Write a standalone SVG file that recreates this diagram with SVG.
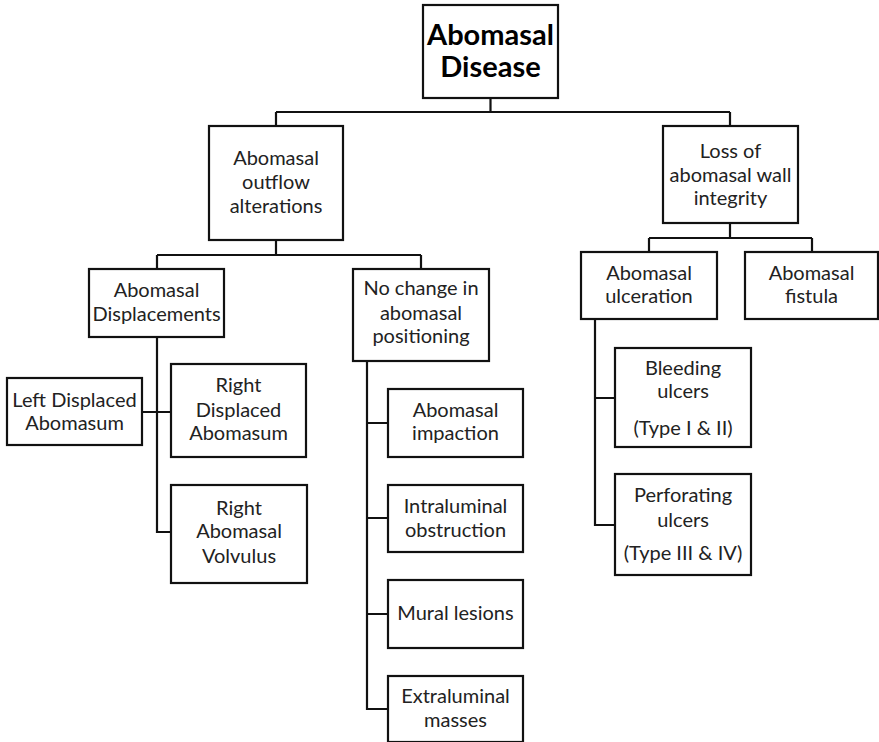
<svg xmlns="http://www.w3.org/2000/svg" width="879" height="742" viewBox="0 0 879 742">
<style>
rect{fill:#fff;stroke:#111;stroke-width:2.2}
.c path{fill:none;stroke:#111;stroke-width:2.2}
text{font-family:Lato,"Liberation Sans",sans-serif;font-size:20px;fill:#222;text-anchor:middle}
.root{font-weight:bold;font-size:29px;fill:#000}
</style>
<rect x="0" y="0" width="879" height="742" style="fill:#fff;stroke:none"/>
<g class="c" id="connectors">
<path d="M490.5 98V112M276 112H730M276 112V126M730 112V126"/>
<path d="M276 240V255M157 255H421M157 255V269M421 255V269"/>
<path d="M730 223V238M649 238H812M649 238V252M812 238V252"/>
<path d="M157 337V532H171M142 412H171"/>
<path d="M367 361V709H388M367 423H388M367 518H388M367 614H388"/>
<path d="M595 319V525H615M595 398H615"/>
</g>
<g id="root"><rect x="423" y="5" width="135" height="93"/><text class="root" x="490.5" y="45">Abomasal</text><text class="root" x="490.5" y="77">Disease</text></g>
<g id="outflow"><rect x="209" y="126" width="134" height="114"/><text x="276" y="165">Abomasal</text><text x="276" y="189">outflow</text><text x="276" y="213">alterations</text></g>
<g id="loss"><rect x="663" y="126" width="135" height="97"/><text x="730.5" y="158">Loss of</text><text x="730.5" y="182">abomasal wall</text><text x="730.5" y="205">integrity</text></g>
<g id="displacements"><rect x="89" y="269" width="135" height="68"/><text x="156.5" y="297">Abomasal</text><text x="156.5" y="321">Displacements</text></g>
<g id="nochange"><rect x="353" y="269" width="136" height="92"/><text x="421" y="295">No change in</text><text x="421" y="320">abomasal</text><text x="421" y="343">positioning</text></g>
<g id="ulceration"><rect x="581" y="252" width="136" height="67"/><text x="649" y="280">Abomasal</text><text x="649" y="303">ulceration</text></g>
<g id="fistula"><rect x="745" y="252" width="133" height="67"/><text x="811.5" y="280">Abomasal</text><text x="811.5" y="303">fistula</text></g>
<g id="lda"><rect x="7" y="378" width="135" height="67"/><text x="74.5" y="407">Left Displaced</text><text x="74.5" y="430">Abomasum</text></g>
<g id="rda"><rect x="171" y="364" width="135" height="93"/><text x="238.5" y="392">Right</text><text x="238.5" y="417">Displaced</text><text x="238.5" y="440">Abomasum</text></g>
<g id="rav"><rect x="171" y="485" width="136" height="98"/><text x="239" y="515">Right</text><text x="239" y="538">Abomasal</text><text x="239" y="563">Volvulus</text></g>
<g id="impaction"><rect x="388" y="389" width="135" height="68"/><text x="455.5" y="417">Abomasal</text><text x="455.5" y="440">impaction</text></g>
<g id="intraluminal"><rect x="388" y="485" width="135" height="67"/><text x="455.5" y="513">Intraluminal</text><text x="455.5" y="537">obstruction</text></g>
<g id="mural"><rect x="388" y="580" width="135" height="68"/><text x="455.5" y="620">Mural lesions</text></g>
<g id="extraluminal"><rect x="388" y="676" width="135" height="66"/><text x="455.5" y="703">Extraluminal</text><text x="455.5" y="727">masses</text></g>
<g id="bleeding"><rect x="615" y="348" width="136" height="99"/><text x="683" y="375">Bleeding</text><text x="683" y="398">ulcers</text><text x="683" y="435">(Type I &amp; II)</text></g>
<g id="perforating"><rect x="615" y="474" width="136" height="101"/><text x="683" y="502">Perforating</text><text x="683" y="527">ulcers</text><text x="683" y="560">(Type III &amp; IV)</text></g>
</svg>
